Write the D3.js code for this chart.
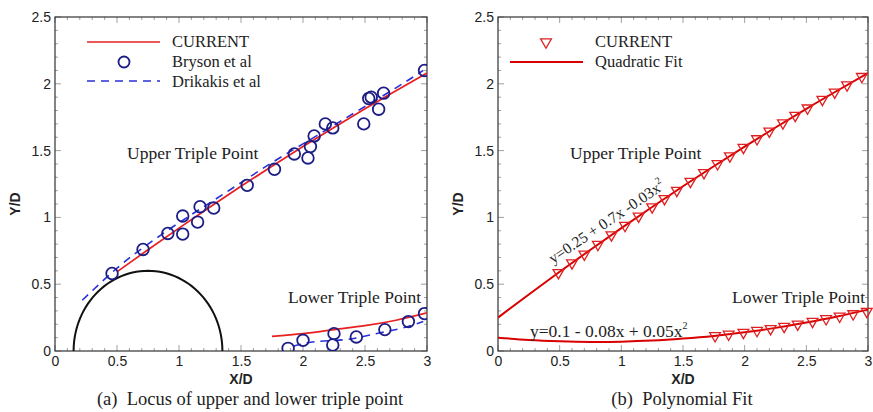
<!DOCTYPE html>
<html><head><meta charset="utf-8">
<script src="https://cdn.jsdelivr.net/npm/d3@7"></script>
<style>body{margin:0;background:#fff}svg{display:block}</style>
</head><body>
<svg id="c" width="873" height="412"></svg>
<script>
// ---- Data ----
const xTicks = [0, 0.5, 1, 1.5, 2, 2.5, 3];
const yTicks = [0, 0.5, 1, 1.5, 2, 2.5];
const xTickLabels = ["0", "0.5", "1", "1.5", "2", "2.5", "3"];
const yTickLabels = ["0", "0.5", "1", "1.5", "2", "2.5"];

// Panel (a)
const brysonUpperX = [0.46,0.71,0.91,1.03,1.03,1.15,1.17,1.28,1.55,1.77,1.93,2.04,2.06,2.09,2.18,2.24,2.49,2.53,2.55,2.61,2.65,2.98];
const brysonUpperY = [0.58,0.76,0.88,1.01,0.875,0.965,1.08,1.07,1.24,1.36,1.475,1.445,1.53,1.61,1.70,1.67,1.70,1.89,1.90,1.81,1.93,2.10];
const brysonLowerX = [1.88,2.00,2.25,2.24,2.43,2.66,2.85,2.98];
const brysonLowerY = [0.02,0.08,0.13,0.045,0.105,0.16,0.22,0.28];
const currentUpperX = [0.5,0.75,1.0,1.25,1.5,1.75,2.0,2.25,2.5,2.75,3.0];
const currentUpperY = [0.593,0.758,0.92,1.078,1.233,1.383,1.53,1.673,1.813,1.948,2.08];
const currentLowerX = [1.75,2.0,2.25,2.5,2.75,3.0];
const currentLowerY = [0.11,0.13,0.16,0.19,0.23,0.285];
const drikakisUpperX = [0.22,0.5,0.75,1.0,1.25,1.5,1.75,2.0,2.25,2.5,2.75,2.97];
const drikakisUpperY = [0.38,0.62,0.80,0.96,1.11,1.26,1.41,1.55,1.69,1.83,1.97,2.10];
const drikakisLowerX = [1.92,2.1,2.34,2.54,2.77,2.97];
const drikakisLowerY = [0.035,0.07,0.085,0.12,0.165,0.22];
const cylinderCenterX = 0.75, cylinderRadius = 0.6;

// Panel (b)
const fitX = [0,0.25,0.5,0.75,1.0,1.25,1.5,1.75,2.0,2.25,2.5,2.75,3.0];
const fitUpperY = [0.25,0.423,0.593,0.758,0.92,1.078,1.233,1.383,1.53,1.673,1.813,1.948,2.08];
const fitLowerY = [0.1,0.083,0.073,0.068,0.07,0.078,0.093,0.113,0.14,0.173,0.213,0.258,0.31];
const triUpperX = [0.49,0.60,0.70,0.81,0.92,1.03,1.14,1.25,1.35,1.45,1.56,1.67,1.78,1.88,1.99,2.10,2.20,2.31,2.41,2.51,2.63,2.73,2.83,2.95];
const triUpperY = [0.586,0.659,0.725,0.797,0.869,0.939,1.009,1.078,1.140,1.202,1.269,1.335,1.401,1.460,1.524,1.588,1.645,1.707,1.763,1.818,1.883,1.937,1.991,2.054];
const triLowerX = [1.76,1.87,1.99,2.10,2.21,2.32,2.43,2.55,2.66,2.77,2.88,2.99];
const triLowerY = [0.114,0.125,0.139,0.153,0.167,0.184,0.201,0.221,0.241,0.260,0.278,0.296];

// ---- Drawing ----
const svg = d3.select("#c");
const SERIF = "'Liberation Serif','Times New Roman',serif";
const SANS = "'Liberation Sans',Arial,sans-serif";
const zip = (xs, ys) => xs.map((x, i) => [x, ys[i]]);

function panel(x0, x1, y0, y1) {
  const x = d3.scaleLinear().domain([0, 3]).range([x0, x1]);
  const y = d3.scaleLinear().domain([0, 2.5]).range([y1, y0]);
  const g = svg.append("g");
  const minor = d3.range(0, 3.0001, 0.1);
  const minorY = d3.range(0, 2.5001, 0.1);
  const tg = g.append("g").attr("stroke", "#888").attr("stroke-width", 0.8);
  minor.forEach(v => {
    const major = Math.abs(v * 2 - Math.round(v * 2)) < 1e-6;
    const L = major ? 6 : 3;
    tg.append("line").attr("x1", x(v)).attr("x2", x(v)).attr("y1", y1).attr("y2", y1 - L);
    tg.append("line").attr("x1", x(v)).attr("x2", x(v)).attr("y1", y0).attr("y2", y0 + L);
  });
  minorY.forEach(v => {
    const major = Math.abs(v * 2 - Math.round(v * 2)) < 1e-6;
    const L = major ? 6 : 3;
    tg.append("line").attr("y1", y(v)).attr("y2", y(v)).attr("x1", x0).attr("x2", x0 + L);
    tg.append("line").attr("y1", y(v)).attr("y2", y(v)).attr("x1", x1).attr("x2", x1 - L);
  });
  g.append("rect").attr("x", x0).attr("y", y0).attr("width", x1 - x0).attr("height", y1 - y0)
    .attr("fill", "none").attr("stroke", "#333").attr("stroke-width", 1.2);
  const ax = d3.axisBottom(x).tickValues(xTicks).tickFormat((d, i) => xTickLabels[i]).tickSize(0).tickPadding(5);
  const ay = d3.axisLeft(y).tickValues(yTicks).tickFormat((d, i) => yTickLabels[i]).tickSize(0).tickPadding(4);
  const gx = g.append("g").attr("transform", `translate(0,${y1})`).call(ax);
  const gy = g.append("g").attr("transform", `translate(${x0},0)`).call(ay);
  [gx, gy].forEach(a => {
    a.select(".domain").remove();
    a.selectAll("text").attr("font-family", SANS).attr("font-size", 14).attr("fill", "#222");
  });
  g.append("text").attr("x", (x0 + x1) / 2).attr("y", y1 + 33).attr("text-anchor", "middle")
    .attr("font-family", SANS).attr("font-weight", "bold").attr("font-size", 14).attr("fill", "#222").text("X/D");
  g.append("text").attr("transform", `translate(${x0 - 35},${(y0 + y1) / 2 + 20}) rotate(-90)`)
    .attr("text-anchor", "middle").attr("font-family", SANS).attr("font-weight", "bold")
    .attr("font-size", 14).attr("fill", "#222").text("Y/D");
  return {x, y, g};
}

function txt(g, x, y, s, size, color) {
  return g.append("text").attr("x", x).attr("y", y).attr("font-family", SERIF)
    .attr("font-size", size || 16).attr("fill", color || "#222").text(s);
}

// Panel (a)
const A = panel(55, 427, 17, 351);
{
  const {x, y, g} = A;
  const clip = g.append("defs").append("clipPath").attr("id", "clipA");
  clip.append("rect").attr("x", 55).attr("y", 17).attr("width", 372).attr("height", 334);
  const plot = g.append("g").attr("clip-path", "url(#clipA)");
  const arcPts = d3.range(0, 181, 3).map(a => [cylinderCenterX + cylinderRadius * Math.cos(a * Math.PI / 180), cylinderRadius * Math.sin(a * Math.PI / 180)]);
  const ln = d3.line().x(d => x(d[0])).y(d => y(d[1]));
  plot.append("path").attr("d", ln(arcPts)).attr("fill", "none").attr("stroke", "#111").attr("stroke-width", 2);
  const cl = d3.line().x(d => x(d[0])).y(d => y(d[1])).curve(d3.curveNatural);
  [[drikakisUpperX, drikakisUpperY], [drikakisLowerX, drikakisLowerY]].forEach(([xs, ys]) => {
    plot.append("path").attr("d", cl(zip(xs, ys))).attr("fill", "none").attr("stroke", "#2830d8")
      .attr("stroke-width", 1.6).attr("stroke-dasharray", "8,6");
  });
  [[currentUpperX, currentUpperY], [currentLowerX, currentLowerY]].forEach(([xs, ys]) => {
    plot.append("path").attr("d", cl(zip(xs, ys))).attr("fill", "none").attr("stroke", "#e82020").attr("stroke-width", 1.7);
  });
  plot.selectAll("circle.b").data(zip(brysonUpperX, brysonUpperY).concat(zip(brysonLowerX, brysonLowerY)))
    .enter().append("circle").attr("cx", d => x(d[0])).attr("cy", d => y(d[1])).attr("r", 5.8)
    .attr("fill", "none").attr("stroke", "#1c1c85").attr("stroke-width", 1.8);
  g.append("line").attr("x1", 87).attr("x2", 160).attr("y1", 42).attr("y2", 42).attr("stroke", "#e82020").attr("stroke-width", 1.7);
  g.append("circle").attr("cx", 124).attr("cy", 62).attr("r", 5.5).attr("fill", "none").attr("stroke", "#1c1c85").attr("stroke-width", 1.8);
  g.append("line").attr("x1", 87).attr("x2", 160).attr("y1", 81).attr("y2", 81).attr("stroke", "#2830d8").attr("stroke-width", 1.6).attr("stroke-dasharray", "8,6");
  txt(g, 172, 47, "CURRENT", 16.5);
  txt(g, 172, 67, "Bryson et al", 16.5);
  txt(g, 172, 87, "Drikakis et al", 16.5);
  txt(g, 127, 159, "Upper Triple Point", 17.5);
  txt(g, 288, 303, "Lower Triple Point", 17.5);
  g.append("text").attr("x", 250).attr("y", 405).attr("text-anchor", "middle").attr("font-family", SERIF)
    .attr("font-size", 18.5).attr("fill", "#222").attr("xml:space", "preserve").text("(a)  Locus of upper and lower triple point");
}

// Panel (b)
const B = panel(498, 868, 17, 351);
{
  const {x, y, g} = B;
  const clip = g.append("defs").append("clipPath").attr("id", "clipB");
  clip.append("rect").attr("x", 498).attr("y", 17).attr("width", 370).attr("height", 334);
  const plot = g.append("g").attr("clip-path", "url(#clipB)");
  const cl = d3.line().x(d => x(d[0])).y(d => y(d[1])).curve(d3.curveNatural);
  [fitUpperY, fitLowerY].forEach(ys => {
    plot.append("path").attr("d", cl(zip(fitX, ys))).attr("fill", "none").attr("stroke", "#d80000").attr("stroke-width", 2);
  });
  const tri = d3.symbol().type(d3.symbolTriangle).size(50);
  g.selectAll("path.t").data(zip(triUpperX, triUpperY).concat(zip(triLowerX, triLowerY))).enter()
    .append("path").attr("d", tri).attr("transform", d => `translate(${x(d[0])},${y(d[1])}) rotate(180)`)
    .attr("fill", "none").attr("stroke", "#e02020").attr("stroke-width", 1.3);
  g.append("path").attr("d", tri).attr("transform", "translate(546,42) rotate(180)")
    .attr("fill", "none").attr("stroke", "#e02020").attr("stroke-width", 1.3);
  g.append("line").attr("x1", 510).attr("x2", 583).attr("y1", 62).attr("y2", 62).attr("stroke", "#d80000").attr("stroke-width", 2);
  txt(g, 595, 47, "CURRENT", 16.5);
  txt(g, 595, 67, "Quadratic Fit", 16.5);
  txt(g, 570, 159, "Upper Triple Point", 17.5);
  txt(g, 732, 303, "Lower Triple Point", 17.5);
  const e1 = g.append("text").attr("transform", "translate(553,264) rotate(-34)").attr("font-family", SERIF)
    .attr("font-size", 15.5).attr("fill", "#222");
  e1.append("tspan").text("y=0.25 + 0.7x -0.03x");
  e1.append("tspan").attr("font-size", 10).attr("dy", -7).text("2");
  const e2 = g.append("text").attr("x", 530).attr("y", 337).attr("font-family", SERIF)
    .attr("font-size", 17.5).attr("fill", "#222");
  e2.append("tspan").text("y=0.1 - 0.08x + 0.05x");
  e2.append("tspan").attr("font-size", 10).attr("dy", -8).text("2");
  g.append("text").attr("x", 682).attr("y", 405).attr("text-anchor", "middle").attr("font-family", SERIF)
    .attr("font-size", 18.5).attr("fill", "#222").attr("xml:space", "preserve").text("(b)  Polynomial Fit");
}
</script>
</body></html>
